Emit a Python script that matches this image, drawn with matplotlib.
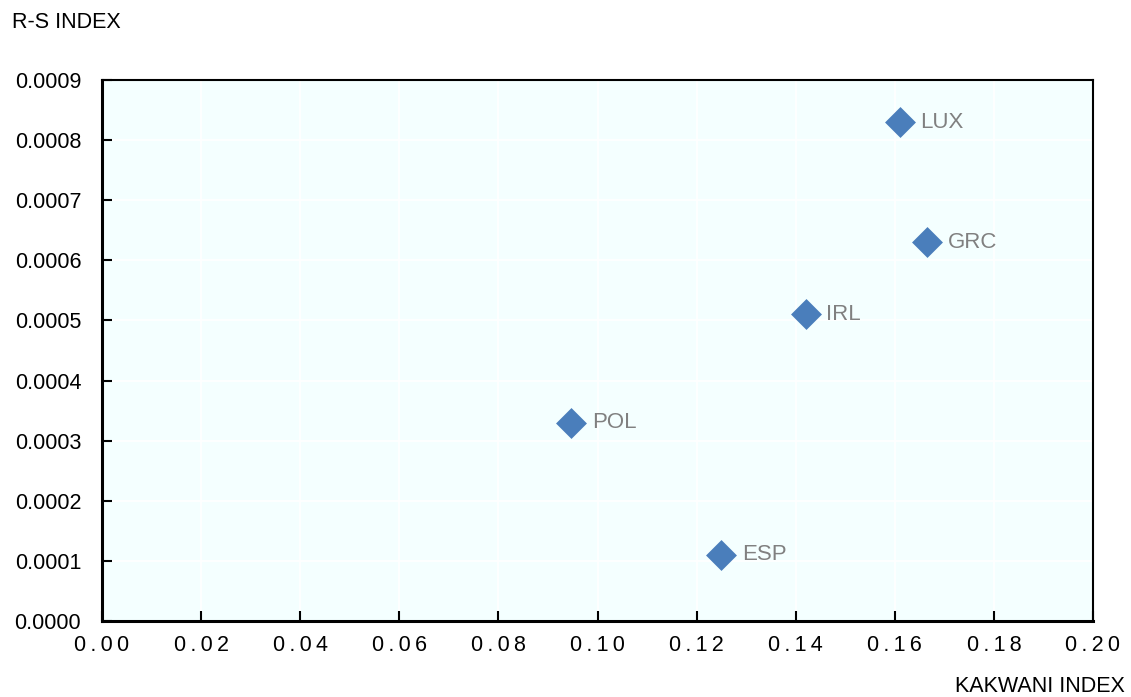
import numpy as np
from matplotlib import pyplot as plt
from matplotlib.ticker import FuncFormatter

# data
countries = ["LUX", "GRC", "IRL", "POL", "ESP"]
kakwani = [0.161, 0.1665, 0.142, 0.0947, 0.125]
rs_index = [0.00083, 0.00063, 0.00051, 0.00033, 0.00011]

plt.rcParams['font.family'] = ['Liberation Sans', 'DejaVu Sans']

fig = plt.figure(figsize=(11.31, 6.97), dpi=100)
ax = fig.add_axes([0.0902, 0.109, 0.8762, 0.7762])
ax.set_facecolor('#f4ffff')

ax.plot(kakwani, rs_index, linestyle='none', marker='D', markersize=13,
        color='#4a7ebb', markeredgecolor='#4a7ebb', markeredgewidth=2.5,
        zorder=3)
for c, x, y in zip(countries, kakwani, rs_index):
    ax.annotate(c, (x, y), xytext=(15, 0), textcoords='offset points',
                va='center', ha='left', fontsize=16, color='#808080')

ax.set_xlim(0, 0.20)
ax.set_ylim(0, 0.0009)
ax.set_xticks(np.arange(0, 0.2001, 0.02))
ax.set_yticks(np.arange(0, 0.00091, 0.0001))
ax.xaxis.set_major_formatter(FuncFormatter(lambda v, p: '\u2009'.join('%.2f' % v)))
ax.yaxis.set_major_formatter(FuncFormatter(lambda v, p: '%.4f' % v))
ax.tick_params(direction='in', length=7, width=1.5, labelsize=15.5, colors='black')
ax.tick_params(axis='x', pad=10)
ax.tick_params(axis='y', pad=15)
ax.grid(True, color='white', linewidth=1.2)
ax.set_axisbelow(True)

for s in ['left', 'bottom']:
    ax.spines[s].set_linewidth(2.2)
for s in ['top', 'right']:
    ax.spines[s].set_linewidth(1.5)

fig.text(12 / 1131, 1 - 22 / 697, "R-S INDEX", fontsize=15.5, va='center', ha='left')
fig.text(1125 / 1131, 1 - 686 / 697, "KAKWANI INDEX", fontsize=15.5, va='center', ha='right')

plt.savefig('out.png', dpi=100)
